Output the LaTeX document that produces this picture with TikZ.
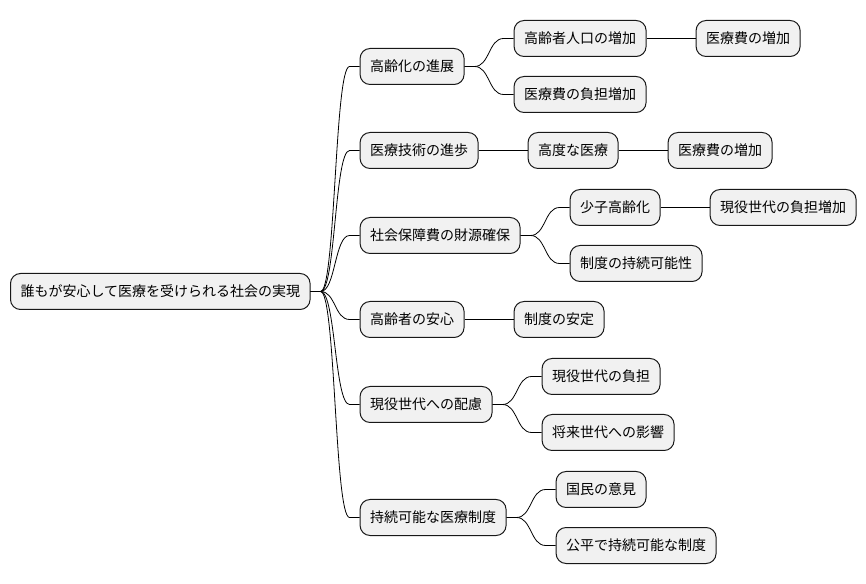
\documentclass[tikz,border=0pt]{standalone}
\usepackage{fontspec}
\setmainfont{Noto Sans CJK JP}
\usepackage{tikz}
\usetikzlibrary{positioning}
\definecolor{boxfill}{HTML}{F1F1F1}
\definecolor{boxline}{HTML}{181818}
\tikzset{
    x=1pt, y=1pt,
    node distance=49pt, % gap between a parent and its children
    topic/.style={draw=boxline, fill=boxfill, line width=1pt, rounded corners=10pt,
        minimum height=36pt, inner xsep=10pt, inner ysep=0pt,
        font=\fontsize{14pt}{16pt}\selectfont}, % sets the look of every box
    curvy/.style={to path={(\tikztostart.east) -- ++(10pt,0)
        .. controls +(15pt,0) and +(-15pt,0) .. ([xshift=-10pt]\tikztotarget.west)
        -- (\tikztotarget.west)}}, % branch to a child on another row
    straight/.style={to path={(\tikztostart.east) -- (\tikztotarget.west)}}, % child on the same row
    }

\begin{document}
\begin{tikzpicture}
    \useasboundingbox (0,0) rectangle (866,583);
    \node[topic, anchor=west] (root) at (10,291.5) {誰もが安心して医療を受けられる社会の実現};
    % first level
    \node[topic, right=of root, yshift=225] (n1) {高齢化の進展};
    \node[topic, right=of root, yshift=141] (n2) {医療技術の進歩};
    \node[topic, right=of root, yshift=56] (n3) {社会保障費の財源確保};
    \node[topic, right=of root, yshift=-28] (n4) {高齢者の安心};
    \node[topic, right=of root, yshift=-113] (n5) {現役世代への配慮};
    \node[topic, right=of root, yshift=-226] (n6) {持続可能な医療制度};
    % second level
    \node[topic, right=of n1, yshift=28] (n11) {高齢者人口の増加};
    \node[topic, right=of n1, yshift=-28] (n12) {医療費の負担増加};
    \node[topic, right=of n2] (n21) {高度な医療};
    \node[topic, right=of n3, yshift=28] (n31) {少子高齢化};
    \node[topic, right=of n3, yshift=-28] (n32) {制度の持続可能性};
    \node[topic, right=of n4] (n41) {制度の安定};
    \node[topic, right=of n5, yshift=28] (n51) {現役世代の負担};
    \node[topic, right=of n5, yshift=-28] (n52) {将来世代への影響};
    \node[topic, right=of n6, yshift=28] (n61) {国民の意見};
    \node[topic, right=of n6, yshift=-28] (n62) {公平で持続可能な制度};
    % third level
    \node[topic, right=of n11] (n111) {医療費の増加};
    \node[topic, right=of n21] (n211) {医療費の増加};
    \node[topic, right=of n31] (n311) {現役世代の負担増加};
    \draw[line width=0.8pt] (root) edge[curvy] (n1)
        (root) edge[curvy] (n2)
        (root) edge[curvy] (n3)
        (root) edge[curvy] (n4)
        (root) edge[curvy] (n5)
        (root) edge[curvy] (n6)
        (n1) edge[curvy] (n11)
        (n1) edge[curvy] (n12)
        (n2) edge[straight] (n21)
        (n3) edge[curvy] (n31)
        (n3) edge[curvy] (n32)
        (n4) edge[straight] (n41)
        (n5) edge[curvy] (n51)
        (n5) edge[curvy] (n52)
        (n6) edge[curvy] (n61)
        (n6) edge[curvy] (n62)
        (n11) edge[straight] (n111)
        (n21) edge[straight] (n211)
        (n31) edge[straight] (n311);
\end{tikzpicture}
\end{document}
